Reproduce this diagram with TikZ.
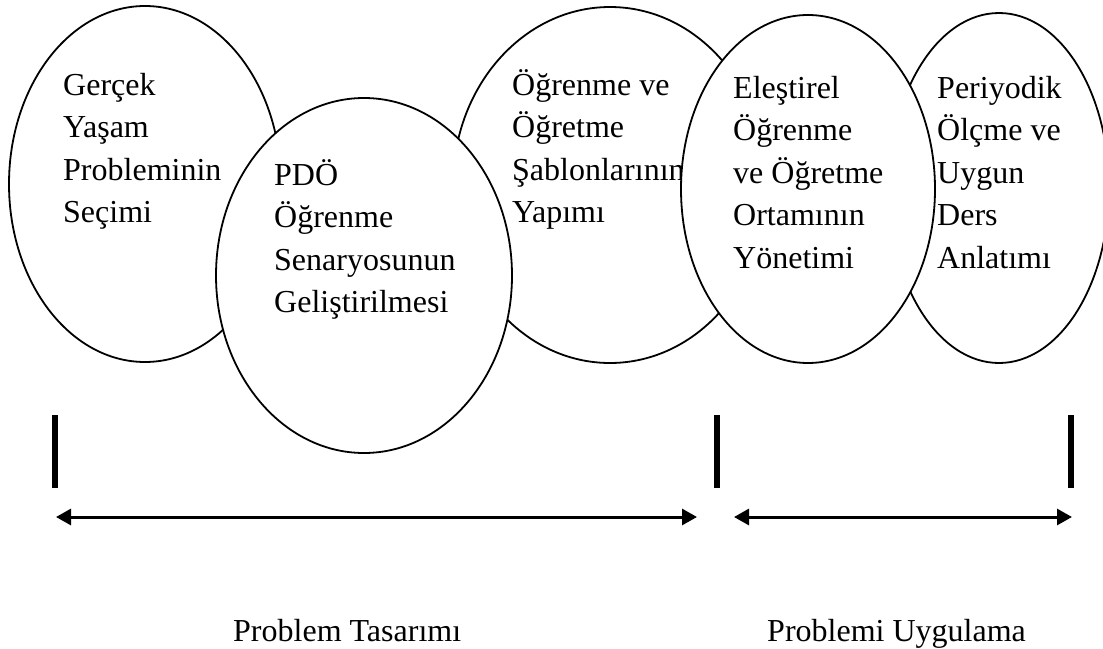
\documentclass[tikz,border=0pt]{standalone}
\usepackage{fontspec}
\setmainfont{Liberation Serif}
\usetikzlibrary{shapes.geometric,arrows.meta}
\newcommand{\stk}[1]{\begin{tabular}[t]{@{}l@{}}#1\end{tabular}}
\begin{document}
\begin{tikzpicture}[x=1pt,y=-1pt,
  oval/.style={ellipse,draw=black,fill=white,line width=1.8pt,inner sep=0pt},
  txt/.style={anchor=base west,inner sep=0pt,font=\fontsize{32}{42.5}\selectfont},
  bar/.style={line width=6pt},
  span/.style={line width=3pt,{Triangle[length=15pt,width=16pt]}-{Triangle[length=15pt,width=16pt]}}]
\useasboundingbox (0,0) rectangle (1103,648);
% ellipses and texts in stacking order
\node[oval,minimum width=272pt,minimum height=356pt] (e1) at (145,184) {};
\node[oval,minimum width=314pt,minimum height=356pt] (e3) at (610,185) {};
\node[txt] (t3) at (512,95) {\stk{Öğrenme ve\\Öğretme\\Şablonlarının\\Yapımı}};
\node[oval,minimum width=220pt,minimum height=350pt] (e5) at (999,188) {};
\node[oval,minimum width=296pt,minimum height=355pt] (e2) at (364,275.5) {};
\node[oval,minimum width=254pt,minimum height=348pt] (e4) at (808,189) {};
\node[txt] (t1) at (63,95) {\stk{Gerçek\\Yaşam\\Probleminin\\Seçimi}};
\node[txt] (t2) at (274,185) {\stk{PDÖ\\Öğrenme\\Senaryosunun\\Geliştirilmesi}};
\node[txt] (t4) at (733,98) {\stk{Eleştirel\\Öğrenme\\ve Öğretme\\Ortamının\\Yönetimi}};
\node[txt] (t5) at (937,98) {\stk{Periyodik\\Ölçme ve\\Uygun\\Ders\\Anlatımı}};
% bars
\coordinate (b1t) at (55,415);  \coordinate (b1b) at (55,488);
\coordinate (b2t) at (717,415); \coordinate (b2b) at (717,488);
\coordinate (b3t) at (1071,415); \coordinate (b3b) at (1071,488);
\draw[bar] (b1t) -- (b1b);
\draw[bar] (b2t) -- (b2b);
\draw[bar] (b3t) -- (b3b);
% arrows
\coordinate (a1l) at (56,517);  \coordinate (a1r) at (697,517);
\coordinate (a2l) at (734,517); \coordinate (a2r) at (1072,517);
\draw[span] (a1l) -- (a1r);
\draw[span] (a2l) -- (a2r);
% labels
\node[txt] (l1) at (233,641) {Problem Tasarımı};
\node[txt] (l2) at (767,641) {Problemi Uygulama};
\end{tikzpicture}
\end{document}
